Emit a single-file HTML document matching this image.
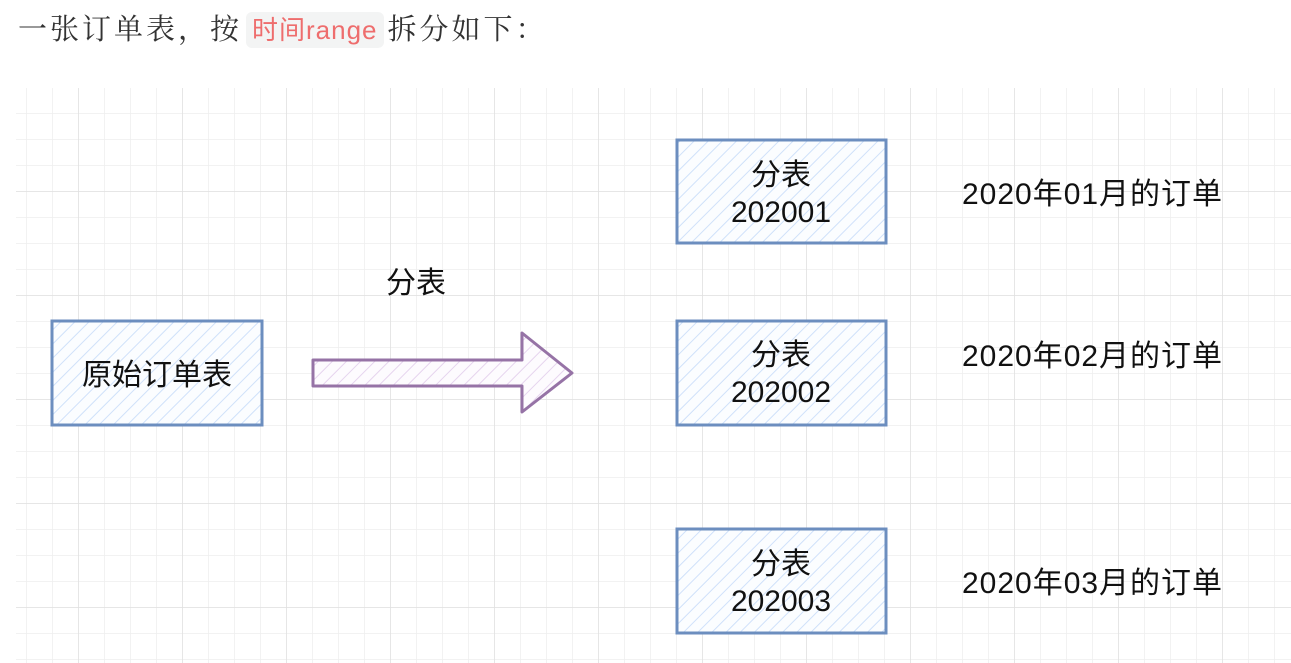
<!DOCTYPE html>
<html><head><meta charset="utf-8"><style>
body{margin:0;width:1291px;height:663px;background:#fff;overflow:hidden;position:relative;font-family:"Liberation Sans","Noto Sans CJK SC",sans-serif}
.hdr{position:absolute;left:18px;top:10px;font-family:"Liberation Serif","Noto Serif CJK SC",serif;font-size:29px;color:#333;white-space:nowrap;line-height:40px;letter-spacing:3px}
.code{background:#f3f4f4;border-radius:6px;padding:3px 6px;color:#ee6d6d;font-family:"Liberation Sans","Noto Sans CJK SC",sans-serif;font-size:26px;margin:0 4px;letter-spacing:1px}
</style></head><body>
<div class="hdr">一张订单表，按<span class="code">时间range</span>拆分如下：</div>
<svg width="1291" height="663" style="position:absolute;left:0;top:0">
<defs>
<pattern id="gm" x="0" y="87" width="26" height="26" patternUnits="userSpaceOnUse"><path d="M0 0H26M0 0V26" stroke="#eeeeee" stroke-width="1.5" fill="none"/></pattern>
<pattern id="gM" x="-26" y="87" width="104" height="104" patternUnits="userSpaceOnUse"><path d="M0 0H104M0 0V104" stroke="#e0e0e0" stroke-width="1.5" fill="none"/></pattern>
<pattern id="hb" width="10" height="10" patternUnits="userSpaceOnUse" patternTransform="rotate(45)"><rect width="10" height="10" fill="#fbfdff"/><line x1="0" y1="0" x2="0" y2="10" stroke="#cfe1fa" stroke-width="2"/></pattern>
<pattern id="hp" width="10" height="10" patternUnits="userSpaceOnUse" patternTransform="rotate(45)"><rect width="10" height="10" fill="#fdfbfe"/><line x1="0" y1="0" x2="0" y2="10" stroke="#e6d4ee" stroke-width="2"/></pattern>
</defs>
<rect x="16" y="88" width="1275" height="575" fill="url(#gm)"/>
<rect x="16" y="88" width="1275" height="575" fill="url(#gM)"/>
<g stroke="#6c8ebf" stroke-width="3" fill="url(#hb)">
<rect x="52" y="321" width="210" height="104"/>
<rect x="677" y="140" width="209" height="103"/>
<rect x="677" y="321" width="209" height="104"/>
<rect x="677" y="529" width="209" height="104"/>
</g>
<path d="M313 360H522V333L572 373L522 412V386H313Z" fill="url(#hp)" stroke="#9673a6" stroke-width="3" stroke-linejoin="round"/>
<g font-size="30" fill="#111" text-anchor="middle" font-family="Liberation Sans,Noto Sans CJK SC,sans-serif">
<text x="157" y="385">原始订单表</text>
<text x="416" y="293">分表</text>
<text x="781" y="185">分表</text><text x="781" y="222">202001</text>
<text x="781" y="365">分表</text><text x="781" y="402">202002</text>
<text x="781" y="574">分表</text><text x="781" y="611">202003</text>
</g>
<g font-size="30" fill="#111" font-family="Liberation Sans,Noto Sans CJK SC,sans-serif">
<text x="962" y="204" textLength="260">2020年01月的订单</text>
<text x="962" y="366" textLength="260">2020年02月的订单</text>
<text x="962" y="593" textLength="260">2020年03月的订单</text>
</g>
</svg>
</body></html>
